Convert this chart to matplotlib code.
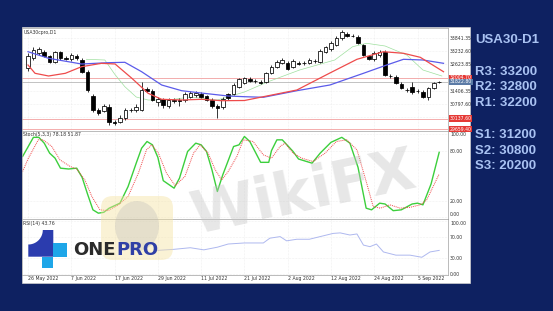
import numpy as np
import pandas as pd
import matplotlib
matplotlib.use("Agg")
import matplotlib.pyplot as plt
from matplotlib.patches import Rectangle, FancyBboxPatch, Polygon, Ellipse

W, H = 553, 311
NAVY = "#0e2161"

# ---- data ----
dates = pd.bdate_range("2022-05-26", periods=77)   # MT4 keeps every weekday

opens = [32454, 32911, 33140, 33172, 33003, 32742, 33172, 32925, 32866, 33017,
         32820, 32284, 31172, 30531, 30499, 30682, 29996, 29996, 30151, 30531,
         30531, 30531, 31479, 31415, 30911, 31035, 30714, 30989, 30989, 30989,
         31140, 31218, 31264, 31172, 30989, 30714, 30655, 31264, 31264, 31598,
         31781, 31937, 31845, 31827, 31827, 32211, 32513, 32696, 32696, 32513,
         32696, 32696, 32696, 32780, 32742, 33200, 33310, 33507, 33813, 34010,
         33935, 33886, 33507, 33003, 32852, 33049, 33200, 32087, 32056, 31721,
         31450, 31598, 31401, 31369, 31140, 31525, 31800]
highs = [33140, 33415, 33415, 33278, 33049, 33232, 33232, 33003, 33140, 33094,
         32911, 32362, 31264, 30623, 30806, 30806, 30074, 30303, 30623, 30623,
         30806, 31813, 31584, 31493, 31126, 31081, 31081, 31081, 31081, 31355,
         31401, 31401, 31355, 31218, 31081, 30806, 31126, 31310, 31767, 31996,
         32042, 32042, 31950, 31905, 32271, 32591, 32820, 32911, 32774, 32866,
         32774, 32774, 32911, 32866, 33323, 33461, 33690, 33918, 34193, 34101,
         34010, 33964, 33552, 33049, 33232, 33278, 33278, 32179, 32133, 31813,
         31538, 31813, 31493, 31447, 31584, 31813, 31850]
lows = [32316, 32820, 33049, 32957, 32682, 32682, 32820, 32820, 32774, 32820,
        32225, 31355, 30440, 30303, 30440, 29845, 29845, 29936, 30074, 30440,
        30440, 30486, 31355, 30944, 30714, 30623, 30623, 30852, 30714, 30898,
        31081, 31126, 31081, 30944, 30623, 30165, 30577, 30989, 31218, 31538,
        31721, 31813, 31767, 31721, 31767, 32179, 32454, 32637, 32362, 32454,
        32591, 32591, 32637, 32682, 32682, 33140, 33232, 33461, 33735, 33873,
        33873, 33552, 33003, 32820, 32774, 32957, 32087, 31996, 31721, 31493,
        31355, 31264, 31310, 31081, 30989, 31493, 31753]
closes = [33003, 33278, 33323, 33003, 32742, 33172, 32898, 32866, 33049, 32898,
          32284, 31447, 30531, 30380, 30714, 29996, 29923, 30151, 30531, 30540,
          30682, 31447, 31415, 30989, 31021, 30760, 30989, 30957, 30944, 31264,
          31296, 31323, 31140, 30989, 30714, 30609, 31021, 31067, 31676, 31937,
          31982, 31872, 31872, 31781, 32211, 32513, 32742, 32820, 32394, 32788,
          32650, 32700, 32820, 32770, 33246, 33401, 33612, 33813, 34115, 33932,
          33925, 33612, 33049, 32852, 33127, 33200, 32133, 32100, 31781, 31525,
          31440, 31369, 31410, 31140, 31525, 31753, 31823]

# moving averages (bar index, price)
ma_blue_x = [0, 3.8, 9.9, 14.8, 17.9, 21, 24.7, 28.4, 31.5, 37, 40, 43.5, 49.7, 55.8, 62, 66.3, 69.4, 73, 76.8]
ma_blue_y = [33200, 32898, 32637, 32696, 32715, 32284, 31676, 31415, 31323, 31172, 31140, 31113,
             31415, 31676, 32211, 32591, 32852, 32820, 32669]
ma_red_x = [0, 1.3, 3.8, 6.9, 9.9, 13.6, 16.1, 19.2, 22.2, 24.7, 28.4, 32.1, 35.8, 40, 43.5, 49.7,
            55.8, 60.8, 65.7, 69.4, 72.5, 76.8]
ma_red_y = [32591, 32211, 32088, 32211, 32513, 32669, 32637, 31982, 31296, 31021, 30989, 31021,
            30957, 30966, 31140, 31447, 32225, 32852, 33200, 33127, 32944, 32284]
ma_green_x = [10.8, 14.2, 16, 17.9, 20, 22.2, 26, 30, 35, 40, 44.4, 50.2, 56.7, 60, 62.6, 66, 70, 73, 76.5]
ma_green_y = [32852, 32820, 32179, 31598, 31126, 30989, 30989, 31126, 30989, 31355, 31827, 32362,
              32820, 33429, 33584, 33461, 33049, 32362, 32087]

price_ticks = [33841.35, 33232.60, 32623.85, 32015.10, 31406.35, 30797.60, 30188.85]
red_levels = [32004.70, 30137.60, 29659.40]
bid = 31822.80

# Stochastic(5,3,3): main (green) and signal (red dotted)
stoch_k_x = [-1, 1, 2, 3, 4, 5, 6, 7.5, 9, 10, 11, 12, 13, 14, 15, 16, 17, 18.5, 20, 21, 22, 23, 24, 25,
             27, 28, 29.5, 31, 32, 33, 34, 35, 36, 37, 38, 39, 40, 41, 43, 44.5, 45, 46, 47, 49, 50,
             52.5, 54, 56, 58, 59.5, 61, 62.5, 63.5, 65, 66, 67.5, 69, 71, 72, 73, 74.5, 76]
stoch_k_y = [73, 96, 96, 89, 77, 71, 59, 58, 59, 48, 28, 9, 5, 6, 11, 14, 17, 37, 65, 83, 91, 87, 72, 44,
             35, 47, 79, 89, 87, 79, 57, 31, 51, 68, 85, 87, 97, 91, 66, 66, 80, 93, 93, 79, 70,
             65, 77, 90, 96, 89, 60, 11, 9, 17, 16, 8, 9, 16, 17, 15, 40, 78]
stoch_d_x = [-1, 0, 1.9, 2.8, 4.4, 5.9, 7.8, 9, 10.5, 11.8, 13.3, 14.8, 16.7, 18.5, 20.4, 21.9, 22.9,
             24.1, 25.6, 27.2, 29, 30.6, 31.8, 33.3, 34.6, 35.8, 37, 38.6, 39.8, 41.6, 43.5, 45,
             46.6, 47.5, 49, 50.6, 52.7, 54.9, 57, 58.9, 60.8, 62.6, 63.8, 65.1, 66.9, 68.8, 70.6,
             72.5, 73.7, 76]
stoch_d_y = [55, 70, 93, 93, 85, 69, 61, 58, 45, 25, 9, 8, 15, 25, 53, 81, 87, 77, 53, 38, 49, 77, 87,
             77, 57, 45, 55, 73, 93, 91, 75, 71, 85, 89, 77, 71, 67, 77, 91, 93, 81, 41, 13, 11, 15,
             11, 12, 15, 21, 52]

# RSI(14)
rsi_x = [24, 27, 30, 32.5, 35, 37, 40, 43.5, 44.7, 46.6, 47.8, 49.7, 52, 54, 56.4, 57.7, 59.5, 60.8,
         62, 63.2, 64.4, 65.7, 68, 70.6, 72.8, 74.3, 76]
rsi_y = [44, 46, 49, 45, 50, 56, 58, 58, 67, 70, 62, 65, 65, 70, 76, 77, 73, 75, 54, 51, 56, 41, 35,
         35, 31, 41, 44]

side_text = ["USA30-D1", "R3: 33200", "R2: 32800", "R1: 32200", "S1: 31200", "S2: 30800", "S3: 20200"]
side_y = [40, 71.7, 87.3, 102.7, 135, 151, 166]


def px_box(x0, y0, x1, y1):
    return [x0 / W, 1 - y1 / H, (x1 - x0) / W, (y1 - y0) / H]


fig = plt.figure(figsize=(W / 100, H / 100), dpi=100, facecolor=NAVY)

bg = fig.add_axes([0, 0, 1, 1])
bg.set_xlim(0, W)
bg.set_ylim(H, 0)
bg.axis("off")
bg.add_patch(Rectangle((22, 27.3), 448, 255.4, facecolor="white", edgecolor="#cfcfcf", lw=0.5))
for txt, yy in zip(side_text, side_y):
    bg.text(475, yy, txt, color="#a9c2f2", fontsize=9.5, fontweight="bold",
            family="Liberation Sans", va="center", ha="left")

ax_p = fig.add_axes(px_box(22, 28, 448, 131))
ax_s = fig.add_axes(px_box(22, 131, 448, 219))
ax_r = fig.add_axes(px_box(22, 219, 448, 275))

date_idx = list(range(0, 77, 8))
date_lbl = [f"{dates[i].day} {dates[i].strftime('%b %Y')}" for i in date_idx]

for ax in (ax_p, ax_s, ax_r):
    ax.set_facecolor("white")
    ax.set_xlim(-1.11, 77.63)
    for sp in ax.spines.values():
        sp.set_color("#a0a0a0")
        sp.set_linewidth(0.5)
    ax.set_xticks(date_idx)
    ax.yaxis.tick_right()
    ax.tick_params(axis="both", length=0, labelsize=3.3, labelcolor="#333333", pad=1.5)
    ax.grid(True, color="#e2e2e2", lw=0.4, ls=":")
    ax.set_axisbelow(True)
ax_p.set_xticklabels([])
ax_s.set_xticklabels([])
ax_r.set_xticklabels(date_lbl, ha="left")
ax_r.tick_params(axis="x", pad=1)

# ---- price panel ----
idx = np.arange(len(opens))
o = np.array(opens, float)
c = np.array(closes, float)
up = c >= o
ax_p.vlines(idx, lows, highs, color="black", lw=0.55, zorder=3)
ax_p.bar(idx, np.abs(c - o), bottom=np.minimum(o, c), width=0.66,
         color=np.where(up, "white", "black"), edgecolor="black", linewidth=0.55, zorder=4)
ax_p.plot(ma_green_x, ma_green_y, color="#9fe09f", lw=0.5, zorder=2)
ax_p.plot(ma_blue_x, ma_blue_y, color="#5b5bea", lw=0.9, zorder=5)
ax_p.plot(ma_red_x, ma_red_y, color="#ee4b4b", lw=0.9, zorder=5)
for lv in red_levels:
    ax_p.axhline(lv, color="#f2a0a0", lw=0.6, zorder=1)
ax_p.axhline(bid, color="#b8b8b8", lw=0.6, zorder=1)
ax_p.set_ylim(29570, 34285)
ax_p.set_yticks(price_ticks)
ax_p.set_yticklabels([f"{v:.2f}" for v in price_ticks])
tr = ax_p.get_yaxis_transform()
for lv in red_levels:
    ax_p.text(1.004, lv, f"{lv:.2f}", transform=tr, fontsize=3.3, color="white", va="center",
              clip_on=False, zorder=10, bbox=dict(fc="#e53935", ec="none", pad=0.5))
ax_p.text(1.004, bid, f"{bid:.2f}", transform=tr, fontsize=3.3, color="white", va="center",
          clip_on=False, zorder=10, bbox=dict(fc="#5b7ba6", ec="none", pad=0.5))
ax_p.text(0.003, 0.985, "USA30cpro,D1", transform=ax_p.transAxes, fontsize=3.3, va="top", color="#333333")

# ---- stochastic ----
ax_s.plot(stoch_k_x, stoch_k_y, color="#3ccf3c", lw=1.0)
ax_s.plot(stoch_d_x, stoch_d_y, color="#f04848", lw=0.7, ls=(0, (1, 1)))
ax_s.set_ylim(-2.0, 103.6)
ax_s.set_yticks([100, 80, 20, 0])
ax_s.set_yticklabels(["100.00", "80.00", "20.00", "0.00"])
ax_s.get_yticklabels()[-1].set_va("bottom")
ax_s.text(0.003, 0.985, "Stoch(5,3,3) 78.18 51.87", transform=ax_s.transAxes, fontsize=3.3,
          va="top", color="#333333")

# ---- RSI ----
ax_r.plot(rsi_x, rsi_y, color="#aeb8ef", lw=0.7)
ax_r.set_ylim(-2.45, 103.2)
ax_r.set_yticks([100, 70, 30, 0])
ax_r.set_yticklabels(["100.00", "70.00", "30.00", "0.00"])
ax_r.get_yticklabels()[0].set_va("top")
ax_r.text(0.003, 0.97, "RSI(14) 43.76", transform=ax_r.transAxes, fontsize=3.3, va="top", color="#333333")

# ---- overlay: watermark + logo ----
ov = fig.add_axes([0, 0, 1, 1])
ov.set_xlim(0, W)
ov.set_ylim(H, 0)
ov.axis("off")
ov.patch.set_alpha(0)
ov.add_patch(FancyBboxPatch((101, 196), 72, 64, boxstyle="round,pad=0,rounding_size=12",
                            fc="#f5e3a3", ec="none", alpha=0.45))
ov.add_patch(Ellipse((137, 226), 44, 50, fc="#b5b5b5", ec="none", alpha=0.3))
ov.text(303, 194, "WikiFX", fontsize=42, fontweight="bold", color="#c4c4c4", alpha=0.4,
        rotation=12, ha="center", va="center")

# ONEPRO logo
r = 14.5
t = np.linspace(np.pi / 2, 0, 20)
arc = np.column_stack([28.3 + r * np.cos(t), 230 + r * np.sin(t)])
shape = np.vstack([[[53.3, 230], [53.3, 256.7], [28.3, 256.7]], arc])
ov.add_patch(Polygon(shape, closed=True, fc="#2b3cae", ec="none"))
ov.add_patch(Rectangle((53.3, 243.3), 13.4, 13.4, fc="#1ea6e8", ec="none"))
ov.add_patch(Rectangle((41.7, 256.7), 11.6, 11.6, fc="#1ea6e8", ec="none"))
ov.text(73, 250, "ONE", fontsize=13, fontweight="bold", color="#2b2b2b", va="center", ha="left")
ov.text(116, 250, "PRO", fontsize=13, fontweight="bold", color="#2f3fa6", va="center", ha="left")

fig.savefig("out.png", dpi=100, facecolor=NAVY)
